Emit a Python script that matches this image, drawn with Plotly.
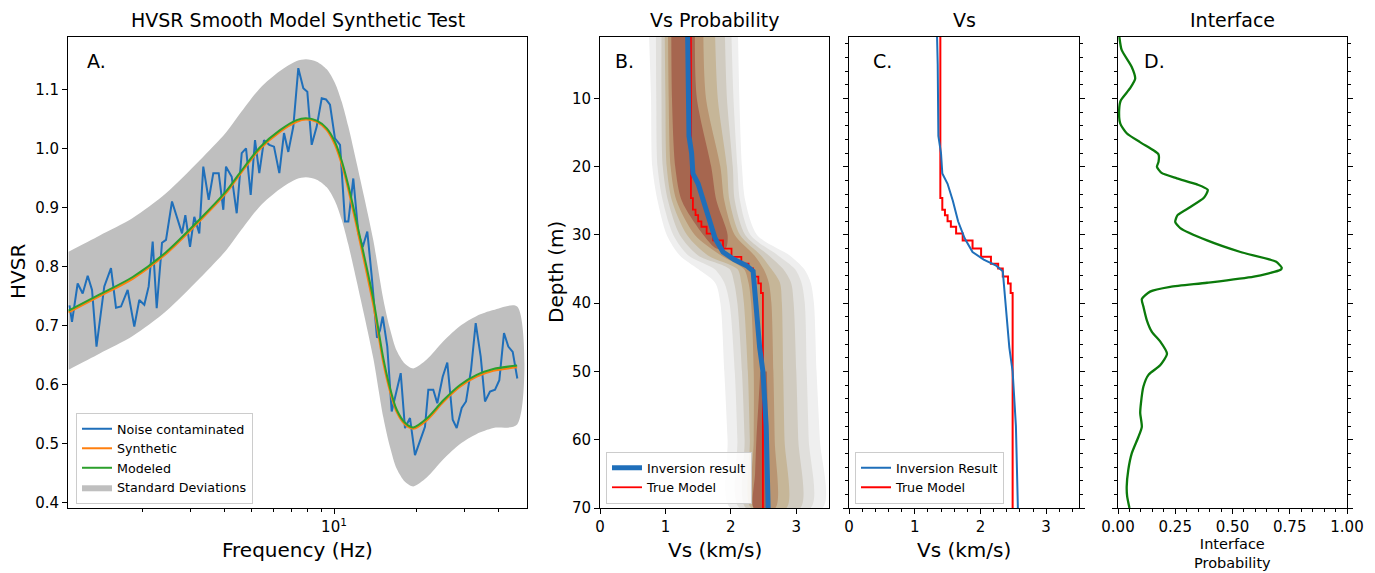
import numpy as np
import plotly.graph_objects as go

# ---------------- Panel A: HVSR ----------------
NOISE_FREQ = [1.083, 1.106, 1.160, 1.210, 1.262, 1.309, 1.359, 1.451, 1.535, 1.601,
              1.670, 1.766, 1.867, 1.947, 2.031, 2.107, 2.179, 2.254, 2.357, 2.437,
              2.563, 2.689, 2.788, 2.867, 2.982, 3.091, 3.224, 3.334, 3.489, 3.627,
              3.795, 3.945, 4.035, 4.233, 4.415, 4.605, 4.775, 4.966, 5.149, 5.338,
              5.553, 5.806, 6.040, 6.316, 6.570, 6.811, 7.104, 7.409, 7.727, 7.991,
              8.291, 8.648, 9.019, 9.350, 9.669, 10.08, 10.52, 10.97, 11.28, 11.76,
              12.27, 12.73, 13.23, 13.73, 14.35, 14.72, 15.06, 15.65, 16.24, 16.84,
              17.52, 18.16, 18.94, 19.75, 20.6, 21.48, 22.09, 23.03, 23.82, 24.93,
              25.91, 27.12, 28.04, 29.25, 30.33, 31.62, 32.9, 34.31, 35.57, 37.1,
              38.7, 40.12, 41.73, 43.27, 44.9, 46.67]
NOISE_HVSR = [0.735, 0.707, 0.772, 0.755, 0.785, 0.761, 0.665, 0.767, 0.798, 0.731,
              0.733, 0.761, 0.699, 0.744, 0.736, 0.767, 0.843, 0.730, 0.841, 0.846,
              0.911, 0.880, 0.857, 0.888, 0.834, 0.885, 0.857, 0.970, 0.914, 0.959,
              0.959, 0.897, 0.970, 0.953, 0.891, 0.993, 1.001, 0.922, 1.015, 0.959,
              1.015, 1.007, 1.004, 0.959, 1.027, 0.995, 1.038, 1.137, 1.103, 1.097,
              1.007, 1.038, 1.086, 1.084, 1.075, 1.018, 1.007, 0.877, 0.877, 0.950,
              0.857, 0.834, 0.860, 0.784, 0.680, 0.693, 0.716, 0.665, 0.555, 0.586,
              0.620, 0.527, 0.544, 0.481, 0.507, 0.529, 0.592, 0.592, 0.569, 0.614,
              0.638, 0.541, 0.527, 0.561, 0.572, 0.625, 0.705, 0.648, 0.572, 0.589,
              0.592, 0.608, 0.688, 0.665, 0.656, 0.611]

MODEL_FREQ = [1.075, 1.391, 1.842, 2.437, 3.224, 4.035, 4.54, 5.37, 6.35, 7.31,
              7.90, 8.65, 9.41, 10.08, 10.67, 11.28, 12.10, 12.98, 13.92, 15.14,
              16.01, 16.94, 18.16, 19.47, 21.79, 25.06, 28.84, 33.18, 38.14, 46.6]
MODEL_HVSR = [0.726, 0.753, 0.783, 0.825, 0.880, 0.928, 0.960, 1.003, 1.032, 1.049,
              1.052, 1.048, 1.035, 1.012, 0.980, 0.938, 0.876, 0.812, 0.745, 0.645,
              0.595, 0.558, 0.536, 0.528, 0.543, 0.574, 0.600, 0.617, 0.627, 0.633]
SYNTH_HVSR = [0.723, 0.750, 0.780, 0.822, 0.877, 0.925, 0.957, 1.000, 1.029, 1.046,
              1.050, 1.046, 1.032, 1.007, 0.974, 0.931, 0.868, 0.803, 0.735, 0.637,
              0.589, 0.554, 0.533, 0.526, 0.540, 0.571, 0.597, 0.614, 0.624, 0.630]
STD_HVSR = [0.10, 0.10, 0.10, 0.10, 0.10, 0.10, 0.10, 0.10, 0.10, 0.10,
            0.10, 0.10, 0.10, 0.10, 0.10, 0.10, 0.10, 0.10, 0.10, 0.10,
            0.10, 0.10, 0.10, 0.10, 0.10, 0.10, 0.10, 0.10, 0.10, 0.10]

# ---------------- Panels B/C: Vs profiles ----------------
INV_DEPTH = [1, 5, 15.5, 18, 21, 22.5, 25, 28, 30.5, 32.5, 33.6, 34.5, 35.3, 46.5, 50, 58, 70]
INV_VS = [1.34, 1.35, 1.36, 1.40, 1.42, 1.50, 1.58, 1.66, 1.76, 1.88, 2.05, 2.24, 2.34, 2.44, 2.49, 2.54, 2.57]

TRUE_TOP = [1, 24.6, 26.3, 27.1, 28.0, 28.8, 29.8, 30.8, 32.0, 33.2, 34.2, 34.9, 36.1, 37.1, 38.5]
TRUE_VS = [1.39, 1.42, 1.46, 1.50, 1.55, 1.63, 1.73, 1.88, 2.01, 2.16, 2.27, 2.34, 2.42, 2.46, 2.49]
MAX_DEPTH = 70

# probability-density bands (outer -> inner): depth nodes with left/right Vs edges
BAND_DEPTH = [1, 10, 20, 25, 30, 33, 35, 37, 40, 50, 60, 70]
BAND_L1_LEFT = [0.75, 0.78, 0.80, 0.88, 1.02, 1.22, 1.50, 1.76, 1.84, 1.90, 1.95, 1.99]
BAND_L1_RIGHT = [2.11, 2.13, 2.17, 2.22, 2.40, 2.90, 3.12, 3.22, 3.27, 3.31, 3.36, 3.40]
BAND_L2_LEFT = [0.855, 0.86, 0.88, 0.96, 1.12, 1.35, 1.75, 1.90, 1.98, 2.06, 2.10, 2.13]
BAND_L2_RIGHT = [2.01, 2.04, 2.10, 2.14, 2.30, 2.72, 2.98, 3.08, 3.13, 3.16, 3.19, 3.22]
BAND_L3_LEFT = [0.94, 0.94, 0.96, 1.04, 1.22, 1.50, 1.98, 2.05, 2.10, 2.17, 2.21, 2.23]
BAND_L3_RIGHT = [1.91, 1.94, 2.03, 2.06, 2.22, 2.58, 2.80, 2.92, 2.96, 3.00, 3.03, 3.06]
BAND_L4_LEFT = [0.99, 1.00, 1.02, 1.10, 1.33, 1.65, 2.10, 2.16, 2.20, 2.26, 2.29, 2.31]
BAND_L4_RIGHT = [1.76, 1.80, 1.94, 1.98, 2.14, 2.46, 2.62, 2.75, 2.78, 2.80, 2.82, 2.85]
BAND_L5_LEFT = [1.04, 1.05, 1.08, 1.17, 1.45, 1.85, 2.20, 2.27, 2.31, 2.35, 2.35, 2.35]
BAND_L5_RIGHT = [1.58, 1.62, 1.84, 1.90, 2.06, 2.36, 2.50, 2.58, 2.62, 2.65, 2.67, 2.68]
CORE_TOP_DEPTH = [1, 10, 20, 25, 30, 32]
CORE_TOP_LEFT = [1.09, 1.10, 1.15, 1.25, 1.58, 1.78]
CORE_TOP_RIGHT = [1.45, 1.48, 1.70, 1.78, 1.95, 1.92]
CORE_BOT_DEPTH = [50, 55, 60, 65, 70]
CORE_BOT_LEFT = [2.45, 2.42, 2.39, 2.37, 2.35]
CORE_BOT_RIGHT = [2.55, 2.56, 2.56, 2.55, 2.53]
BAND_COLORS = ['#efefef', '#e0dfdc', '#d0cbc0', '#c6b698', '#b99572', '#a6664f']

# ---------------- Panel D: interface probability ----------------
D_DEPTH = [1.0, 2.9, 5.4, 7.1, 8.5, 10.3, 11.7, 13.7, 15.1, 16.4, 17.6, 18.2, 19.3, 20.0,
           20.9, 21.7, 22.6, 23.4, 24.6, 25.9, 27.1, 28.1, 29.0, 30.8, 32.5, 33.9, 34.8,
           35.1, 36.1, 37.0, 37.6, 38.3, 39.4, 40.5, 42.5, 44.2, 45.6, 47.4, 49.1, 50.5,
           52.2, 54.7, 56.1, 58.1, 59.6, 62.0, 64.4, 66.9, 68.3, 70.0]
D_PROB = [0.006, 0.016, 0.06, 0.075, 0.053, 0.012, 0.005, 0.01, 0.038, 0.096, 0.155, 0.177,
          0.177, 0.17, 0.19, 0.257, 0.345, 0.392, 0.374, 0.316, 0.26, 0.25, 0.272, 0.389,
          0.535, 0.689, 0.715, 0.71, 0.593, 0.389, 0.228, 0.14, 0.104, 0.111, 0.126, 0.148,
          0.184, 0.214, 0.184, 0.133, 0.111, 0.10, 0.097, 0.104, 0.089, 0.06, 0.045, 0.038,
          0.04, 0.05]

BLUE = '#1f6fba'
FONT = 'DejaVu Sans'
W, H = 1375, 573

fig = go.Figure()

# --- Panel A traces ---
mf = np.array(MODEL_FREQ)
mv = np.array(MODEL_HVSR)
sd = np.array(STD_HVSR)
fig.add_trace(go.Scatter(
    x=list(mf) + list(mf[::-1]), y=list(mv + sd) + list((mv - sd)[::-1]),
    fill='toself', fillcolor='#bfbfbf', mode='lines',
    line=dict(width=0, color='#bfbfbf', shape='spline', smoothing=0.8),
    name='Standard Deviations', legend='legend', legendrank=4, xaxis='x', yaxis='y'))
fig.add_trace(go.Scatter(x=NOISE_FREQ, y=NOISE_HVSR, mode='lines',
                         line=dict(color=BLUE, width=2), name='Noise contaminated',
                         legend='legend', legendrank=1, xaxis='x', yaxis='y'))
fig.add_trace(go.Scatter(x=MODEL_FREQ, y=SYNTH_HVSR, mode='lines',
                         line=dict(color='#ff7f0e', width=2, shape='spline', smoothing=0.8),
                         name='Synthetic', legend='legend', legendrank=2, xaxis='x', yaxis='y'))
fig.add_trace(go.Scatter(x=MODEL_FREQ, y=MODEL_HVSR, mode='lines',
                         line=dict(color='#2ca02c', width=2, shape='spline', smoothing=0.8),
                         name='Modeled', legend='legend', legendrank=3, xaxis='x', yaxis='y'))

# --- Panel B density bands ---
def band(depth, left, right, color):
    xs = list(left) + list(right[::-1])
    ys = list(depth) + list(depth[::-1])
    fig.add_trace(go.Scatter(x=xs, y=ys, fill='toself', fillcolor=color, mode='lines',
                             line=dict(width=0, color=color, shape='spline', smoothing=0.8),
                             showlegend=False, hoverinfo='skip', xaxis='x2', yaxis='y2'))

band(BAND_DEPTH, BAND_L1_LEFT, BAND_L1_RIGHT, BAND_COLORS[0])
band(BAND_DEPTH, BAND_L2_LEFT, BAND_L2_RIGHT, BAND_COLORS[1])
band(BAND_DEPTH, BAND_L3_LEFT, BAND_L3_RIGHT, BAND_COLORS[2])
band(BAND_DEPTH, BAND_L4_LEFT, BAND_L4_RIGHT, BAND_COLORS[3])
band(BAND_DEPTH, BAND_L5_LEFT, BAND_L5_RIGHT, BAND_COLORS[4])
band(CORE_TOP_DEPTH, CORE_TOP_LEFT, CORE_TOP_RIGHT, BAND_COLORS[5])
band(CORE_BOT_DEPTH, CORE_BOT_LEFT, CORE_BOT_RIGHT, BAND_COLORS[5])

# step path of the true model
bottoms = TRUE_TOP[1:] + [MAX_DEPTH]
step_x, step_y = [], []
for v, t, b in zip(TRUE_VS, TRUE_TOP, bottoms):
    step_x += [v, v]
    step_y += [t, b]

fig.add_trace(go.Scatter(x=step_x, y=step_y, mode='lines', line=dict(color='red', width=1.8),
                         name='True Model', legend='legend2', legendrank=2, xaxis='x2', yaxis='y2'))
fig.add_trace(go.Scatter(x=INV_VS, y=INV_DEPTH, mode='lines', line=dict(color=BLUE, width=5),
                         name='Inversion result', legend='legend2', legendrank=1, xaxis='x2', yaxis='y2'))

# --- Panel C ---
fig.add_trace(go.Scatter(x=step_x, y=step_y, mode='lines', line=dict(color='red', width=2),
                         name='True Model', legend='legend3', legendrank=2, xaxis='x3', yaxis='y3'))
fig.add_trace(go.Scatter(x=INV_VS, y=INV_DEPTH, mode='lines', line=dict(color=BLUE, width=2),
                         name='Inversion Result', legend='legend3', legendrank=1, xaxis='x3', yaxis='y3'))

# --- Panel D ---
fig.add_trace(go.Scatter(x=D_PROB, y=D_DEPTH, mode='lines',
                         line=dict(color='#0b7a0b', width=2.3, shape='spline', smoothing=0.6),
                         showlegend=False, xaxis='x4', yaxis='y4'))

def px_x(p):
    return p / W

def px_y(p):
    return 1 - p / H

YDOM = [px_y(508), px_y(37)]
base = dict(showline=True, linecolor='black', linewidth=1, mirror=True, ticks='outside',
            ticklen=5, tickwidth=1, tickcolor='black', showgrid=False, zeroline=False,
            automargin=False,
            tickfont=dict(family=FONT, size=15, color='black'))
minor_style = dict(ticks='outside', ticklen=3, tickwidth=1, tickcolor='black', showgrid=False)
LEG_FONT = dict(family=FONT, size=12.7, color='black')

fig.update_layout(
    width=W, height=H, autosize=False,
    margin=dict(l=0, r=0, t=0, b=0, pad=0, autoexpand=False),
    paper_bgcolor='white', plot_bgcolor='white',
    font=dict(family=FONT, color='black'),
    xaxis=dict(base, type='log', domain=[px_x(68), px_x(527)], range=[0.0292, 1.7044],
               tickmode='array', tickvals=[10], ticktext=['10<sup>1</sup>'], anchor='y',
               minor=dict(minor_style, tickmode='array', tickvals=[2, 3, 4, 5, 6, 7, 8, 9, 20, 30, 40])),
    yaxis=dict(base, domain=YDOM, range=[0.3915, 1.1898], tick0=0, dtick=0.1,
               tickformat='.1f', anchor='x'),
    xaxis2=dict(base, domain=[px_x(600), px_x(829)], range=[0, 3.5], tickvals=[0, 1, 2, 3], anchor='y2'),
    yaxis2=dict(base, domain=YDOM, range=[70, 1.0], tickvals=[10, 20, 30, 40, 50, 60, 70], anchor='x2'),
    xaxis3=dict(base, domain=[px_x(849), px_x(1079)], range=[0, 3.5], tickvals=[0, 1, 2, 3], anchor='y3',
                minor=dict(minor_style, dtick=0.2, tick0=0)),
    yaxis3=dict(base, domain=YDOM, range=[70, 1.0], tickvals=[10, 20, 30, 40, 50, 60, 70],
                showticklabels=False, mirror='allticks', anchor='x3',
                minor=dict(minor_style, dtick=2, tick0=0)),
    xaxis4=dict(base, domain=[px_x(1118), px_x(1347)], range=[0, 1],
                tickvals=[0, 0.25, 0.5, 0.75, 1.0], ticktext=['0.00', '0.25', '0.50', '0.75', '1.00'],
                anchor='y4', minor=dict(minor_style, dtick=0.05, tick0=0)),
    yaxis4=dict(base, domain=YDOM, range=[70, 1.0], tickvals=[10, 20, 30, 40, 50, 60, 70],
                showticklabels=False, mirror='allticks', anchor='x4',
                minor=dict(minor_style, dtick=2, tick0=0)),
    legend=dict(x=px_x(76), y=px_y(504), xanchor='left', yanchor='bottom',
                bgcolor='rgba(255,255,255,0.85)', bordercolor='#cccccc', borderwidth=1,
                font=LEG_FONT, tracegroupgap=0),
    legend2=dict(x=px_x(606), y=px_y(504), xanchor='left', yanchor='bottom',
                 bgcolor='rgba(255,255,255,0.85)', bordercolor='#cccccc', borderwidth=1,
                 font=LEG_FONT, tracegroupgap=0),
    legend3=dict(x=px_x(855), y=px_y(504), xanchor='left', yanchor='bottom',
                 bgcolor='rgba(255,255,255,0.85)', bordercolor='#cccccc', borderwidth=1,
                 font=LEG_FONT, tracegroupgap=0),
    showlegend=True,
)

def ann(text, x, y, size, xanchor='center', yanchor='middle', angle=0):
    fig.add_annotation(text=text, x=px_x(x), y=px_y(y), xref='paper', yref='paper',
                       xanchor=xanchor, yanchor=yanchor, showarrow=False, textangle=angle,
                       font=dict(family=FONT, size=size, color='black'))

# titles
ann('HVSR Smooth Model Synthetic Test', 297.5, 20, 19)
ann('Vs Probability', 714.5, 20, 19)
ann('Vs', 964, 20, 19)
ann('Interface', 1232.5, 20, 19)
# panel letters
ann('A.', 85, 61, 19, xanchor='left')
ann('B.', 613, 61, 19, xanchor='left')
ann('C.', 871, 61, 19, xanchor='left')
ann('D.', 1142, 61, 19, xanchor='left')
# axis titles
ann('HVSR', 18, 272, 20, angle=-90)
ann('Frequency (Hz)', 297.5, 550, 20)
ann('Depth (m)', 556, 272, 20, angle=-90)
ann('Vs (km/s)', 714.5, 550, 20)
ann('Vs (km/s)', 964, 550, 20)
ann('Interface<br>Probability', 1232.5, 553, 14.5)

fig.write_html('out.html')
